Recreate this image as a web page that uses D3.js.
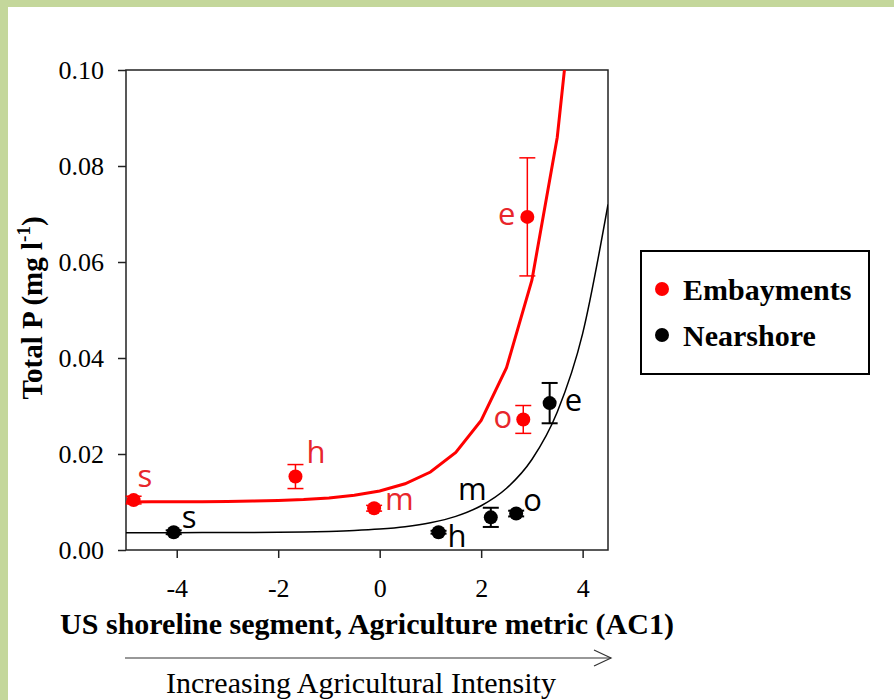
<!DOCTYPE html>
<html lang="en">
<head>
<meta charset="utf-8">
<script src="https://d3js.org/d3.v7.min.js"></script>
<style>
body { margin: 0; background: #fff; }
.axis text { font-family: "Liberation Serif", "Times New Roman", serif; font-size: 26px; fill: #000; }
.axis path, .axis line { stroke: #222; stroke-width: 1.5px; }
.ptlabel { font-family: "Open Sans", "DejaVu Sans", sans-serif; font-size: 31px; }
</style>
</head>
<body>
<div id="chart"></div>
<script>
// ---- data ----
var embayLabels = ["s", "h", "m", "o", "e"];
var embayX = [-4.85, -1.66, -0.11, 2.83, 2.91];
var embayY = [0.0104, 0.0153, 0.0087, 0.0272, 0.0694];
var embayErr = [0.0008, 0.0025, 0.0006, 0.0029, 0.0123];

var nearLabels = ["s", "h", "m", "o", "e"];
var nearX = [-4.06, 1.16, 2.19, 2.69, 3.35];
var nearY = [0.0037, 0.0037, 0.0068, 0.0076, 0.0306];
var nearErr = [0.0004, 0.0003, 0.0020, 0.0006, 0.0042];

// fitted curves, read at steps of 0.5 along x
var fitX = [-5, -4.5, -4, -3.5, -3, -2.5, -2, -1.5, -1, -0.5, 0, 0.5, 1, 1.5, 2, 2.5, 3, 3.5, 4, 4.5];
var embayFit = [0.01002, 0.01003, 0.01004, 0.01007, 0.01011, 0.01019, 0.01031, 0.01051, 0.01085, 0.0114,
                0.0123, 0.01379, 0.01625, 0.02031, 0.027, 0.038, 0.0562, 0.086, 0.1356, 0.218];
var nearFit = [0.00361, 0.00361, 0.00361, 0.00362, 0.00364, 0.00366, 0.0037, 0.00377, 0.00388, 0.00406,
               0.00436, 0.00485, 0.00567, 0.00701, 0.00922, 0.01286, 0.01886, 0.02875, 0.04509, 0.072];

var xTicks = [-4, -2, 0, 2, 4];
var yTicks = [0, 0.02, 0.04, 0.06, 0.08, 0.10];
var legendNames = ["Embayments", "Nearshore"];

// label placement (pixels from the point)
var embayOff = [[4, -13, "start"], [11, -14, "start"], [11, 2, "start"], [-11, 9, "end"], [-12, 8, "end"]];
var nearOff = [[8, -4, "start"], [9, 15, "start"], [-4, -17, "end"], [7, -3, "start"], [15, 8, "start"]];

var W = 894, H = 700;
var mLeft = 126, mTop = 70, pw = 482, ph = 480;
var red = "#ff0000", labRed = "#e8262b";

var svg = d3.select("#chart").append("svg").attr("width", W).attr("height", H);

// green frame of the slide
svg.append("rect").attr("x", 0).attr("y", 0).attr("width", W).attr("height", 7).attr("fill", "#c4d79b");
svg.append("rect").attr("x", 0).attr("y", 0).attr("width", 8).attr("height", H).attr("fill", "#c4d79b");

var x = d3.scaleLinear().domain([-5, 4.5]).range([0, pw]);
var y = d3.scaleLinear().domain([0, 0.1]).range([ph, 0]);

var g = svg.append("g").attr("transform", "translate(" + mLeft + "," + mTop + ")");

g.append("clipPath").attr("id", "clip")
  .append("rect").attr("width", pw).attr("height", ph);

// axes
g.append("g").attr("class", "axis")
  .attr("transform", "translate(0," + ph + ")")
  .call(d3.axisBottom(x).tickValues(xTicks).tickSize(8).tickPadding(21).tickSizeOuter(0)
        .tickFormat(function(d) { return String(d); }));
g.append("g").attr("class", "axis")
  .call(d3.axisLeft(y).tickValues(yTicks).tickSize(8).tickPadding(14).tickSizeOuter(0)
        .tickFormat(function(d) { return d.toFixed(2); }));
g.selectAll(".axis .domain").remove();

// frame box
g.append("rect").attr("width", pw).attr("height", ph)
  .attr("fill", "none").attr("stroke", "#222").attr("stroke-width", 1.5);

// fitted lines
var fitPts = fitX.map(function(v, i) { return {x: v, e: embayFit[i], n: nearFit[i]}; });
var lineE = d3.line().x(function(d) { return x(d.x); }).y(function(d) { return y(d.e); });
var lineN = d3.line().curve(d3.curveMonotoneX)
  .x(function(d) { return x(d.x); }).y(function(d) { return y(d.n); });

var curves = g.append("g").attr("clip-path", "url(#clip)");
curves.append("path").datum(fitPts).attr("d", lineN)
  .attr("fill", "none").attr("stroke", "#000").attr("stroke-width", 1.5);
curves.append("path").datum(fitPts).attr("d", lineE)
  .attr("fill", "none").attr("stroke", red).attr("stroke-width", 3);

function drawSeries(labels, xs, ys, errs, offs, col, labCol, sw) {
  var pts = labels.map(function(l, i) {
    return {lab: l, x: xs[i], y: ys[i], err: errs[i], off: offs[i]};
  });
  var s = g.append("g");
  var eb = s.selectAll(".eb").data(pts).enter().append("g")
    .attr("stroke", col).attr("stroke-width", sw);
  eb.append("line")
    .attr("x1", function(d) { return x(d.x); }).attr("x2", function(d) { return x(d.x); })
    .attr("y1", function(d) { return y(d.y - d.err); }).attr("y2", function(d) { return y(d.y + d.err); });
  eb.append("line")
    .attr("x1", function(d) { return x(d.x) - 8; }).attr("x2", function(d) { return x(d.x) + 8; })
    .attr("y1", function(d) { return y(d.y + d.err); }).attr("y2", function(d) { return y(d.y + d.err); });
  eb.append("line")
    .attr("x1", function(d) { return x(d.x) - 8; }).attr("x2", function(d) { return x(d.x) + 8; })
    .attr("y1", function(d) { return y(d.y - d.err); }).attr("y2", function(d) { return y(d.y - d.err); });
  s.selectAll("circle").data(pts).enter().append("circle")
    .attr("cx", function(d) { return x(d.x); }).attr("cy", function(d) { return y(d.y); })
    .attr("r", 7).attr("fill", col);
  s.selectAll("text").data(pts).enter().append("text")
    .attr("class", "ptlabel")
    .attr("x", function(d) { return x(d.x) + d.off[0]; })
    .attr("y", function(d) { return y(d.y) + d.off[1]; })
    .attr("text-anchor", function(d) { return d.off[2]; })
    .attr("fill", labCol)
    .text(function(d) { return d.lab; });
}
drawSeries(embayLabels, embayX, embayY, embayErr, embayOff, red, labRed, 1.5);
drawSeries(nearLabels, nearX, nearY, nearErr, nearOff, "#000", "#000", 2);

// y title
svg.append("text")
  .attr("transform", "translate(42," + (mTop + ph / 2 - 2) + ") rotate(-90)")
  .attr("text-anchor", "middle")
  .style("font-family", "'Liberation Serif', 'Times New Roman', serif")
  .style("font-weight", "bold").style("font-size", "29px")
  .html('Total P (mg l<tspan dy="-12" font-size="19px">-1</tspan><tspan dy="12">)</tspan>');

// x title
svg.append("text")
  .attr("x", 367).attr("y", 634)
  .attr("text-anchor", "middle")
  .style("font-family", "'Liberation Serif', 'Times New Roman', serif")
  .style("font-weight", "bold").style("font-size", "30px")
  .text("US shoreline segment, Agriculture metric (AC1)");

// arrow
var ar = svg.append("g").attr("stroke", "#333").attr("stroke-width", 1.2).attr("fill", "none");
ar.append("line").attr("x1", 125).attr("x2", 611).attr("y1", 658).attr("y2", 658);
ar.append("path").attr("d", "M594,650 L611,658 L594,666");

svg.append("text")
  .attr("x", 361).attr("y", 693)
  .attr("text-anchor", "middle")
  .style("font-family", "'Liberation Serif', 'Times New Roman', serif")
  .style("font-size", "30px")
  .text("Increasing Agricultural Intensity");

// legend
var lg = svg.append("g");
lg.append("rect").attr("x", 641).attr("y", 251).attr("width", 228).attr("height", 123)
  .attr("fill", "#fff").attr("stroke", "#000").attr("stroke-width", 2);
var items = lg.selectAll(".li").data(legendNames).enter().append("g")
  .attr("transform", function(d, i) { return "translate(662," + (289 + i * 46) + ")"; });
items.append("circle").attr("r", 7).attr("fill", function(d, i) { return i === 0 ? red : "#000"; });
items.append("text").attr("x", 21).attr("y", 11)
  .style("font-family", "'Liberation Serif', 'Times New Roman', serif")
  .style("font-weight", "bold").style("font-size", "30px")
  .text(function(d) { return d; });
</script>
</body>
</html>
